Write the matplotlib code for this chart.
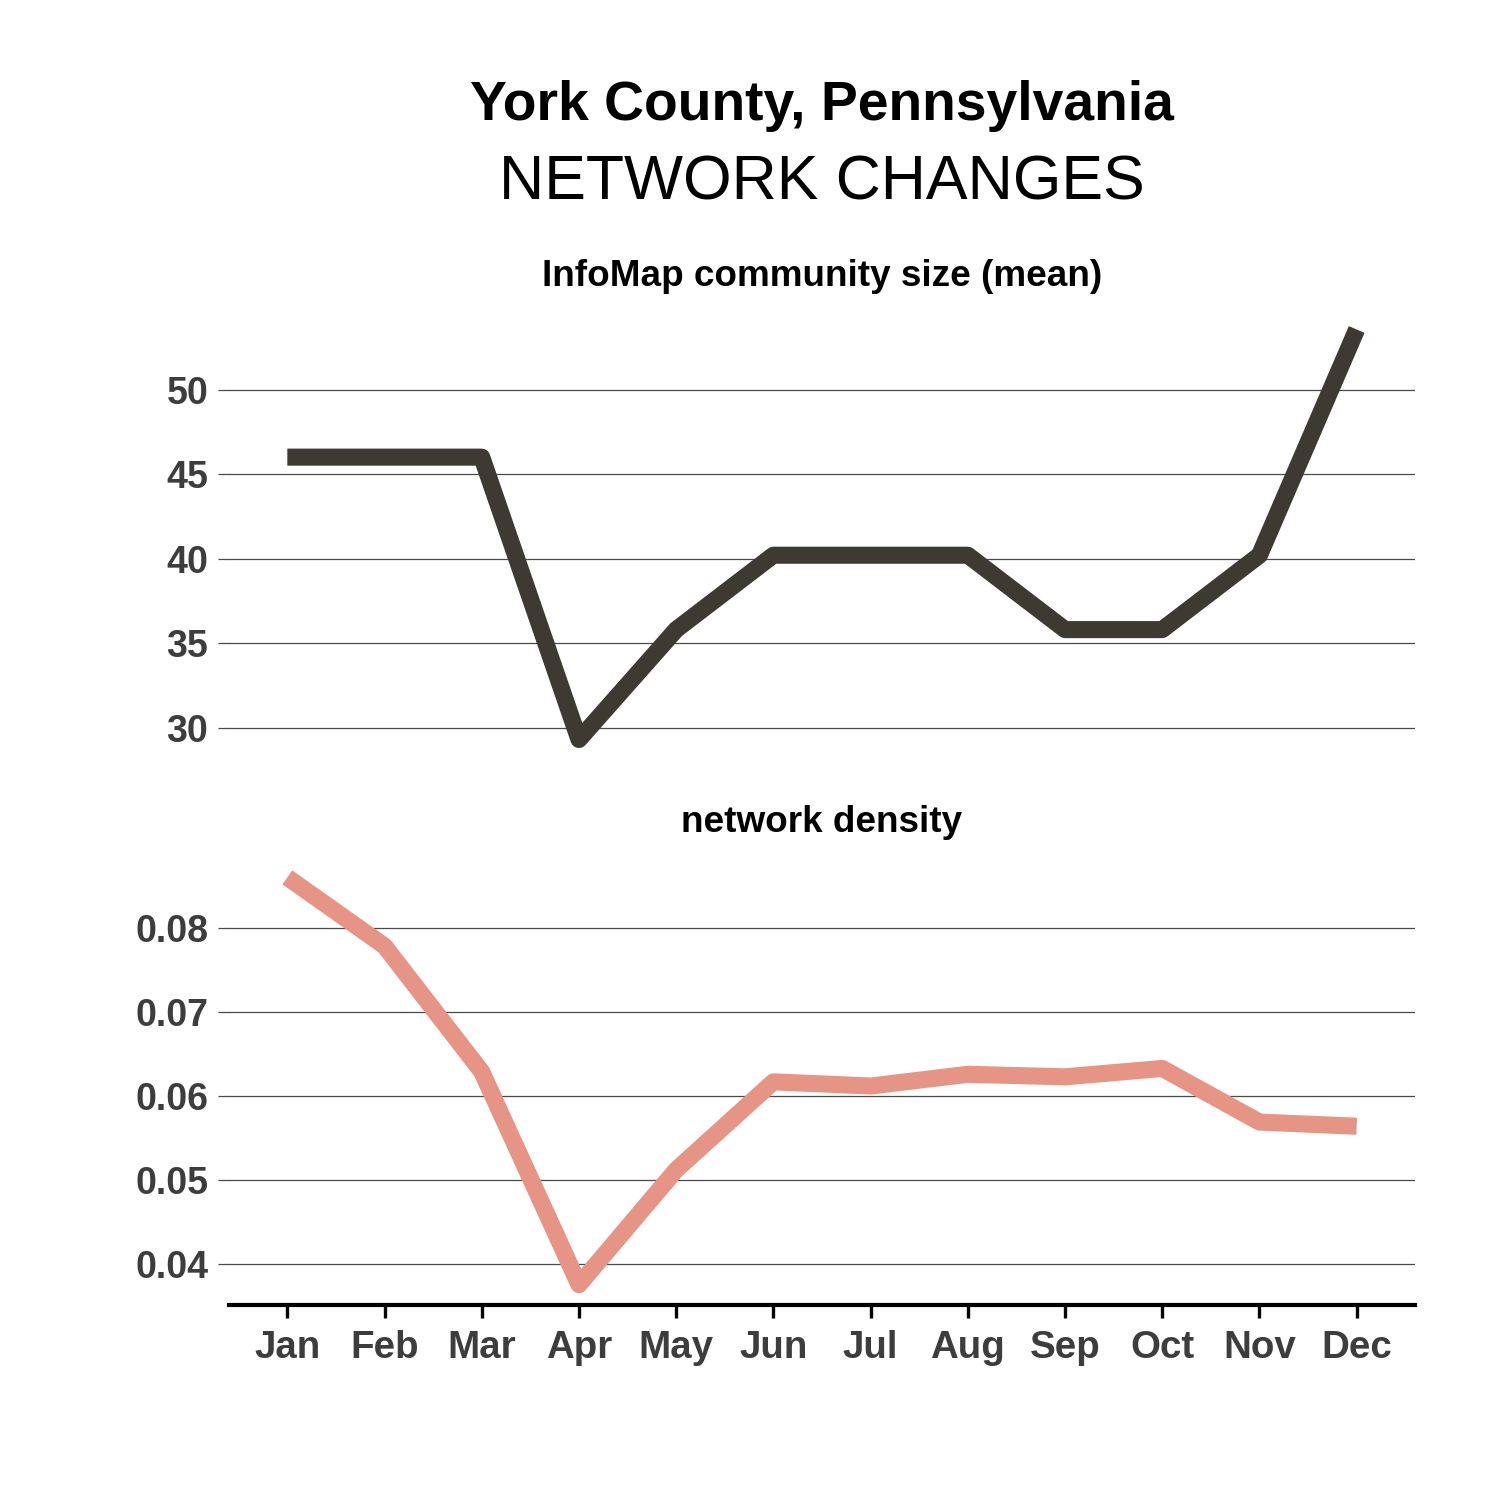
import matplotlib
matplotlib.use("Agg")
import matplotlib.pyplot as plt
import numpy as np

plt.rcParams["font.family"] = ["Liberation Sans", "DejaVu Sans"]

MONTHS = ["Jan", "Feb", "Mar", "Apr", "May", "Jun", "Jul", "Aug", "Sep", "Oct", "Nov", "Dec"]
COMMUNITY_SIZE = [46.0, 46.0, 46.0, 29.3, 35.8, 40.2, 40.2, 40.2, 35.8, 35.8, 40.2, 53.55]
DENSITY = [0.0861, 0.0779, 0.0629, 0.0375, 0.0512, 0.0617, 0.0612, 0.0626, 0.0623, 0.0633, 0.0569, 0.0564]

SIZE_TICKS = [30, 35, 40, 45, 50]
DENSITY_TICKS = [0.04, 0.05, 0.06, 0.07, 0.08]

DARK = "#3d3a32"
PINK = "#e59485"
GRID = "#4a4a4a"
LABEL = "#3d3d3d"

W = 1500.0
fig = plt.figure(figsize=(10, 10), dpi=150)


def box(left, top, right, bottom):
    return [left / W, 1 - bottom / W, (right - left) / W, (bottom - top) / W]


def padded(vals, frac=0.05):
    lo, hi = min(vals), max(vals)
    d = (hi - lo) * frac
    return lo - d, hi + d


def style(ax, ticks, fmt):
    for s in ax.spines.values():
        s.set_visible(False)
    ax.set_xlim(-0.6, len(MONTHS) - 1 + 0.6)
    ax.set_yticks(ticks)
    ax.set_yticklabels([fmt.format(t) for t in ticks], fontsize=18, fontweight="bold", color=LABEL)
    ax.tick_params(axis="y", length=5.5, width=0.6, color=GRID, pad=4.5)
    ax.yaxis.grid(True, color=GRID, linewidth=0.6)
    ax.set_axisbelow(True)


x = np.arange(len(MONTHS))

ax1 = fig.add_axes(box(229, 309, 1415, 760))
ax1.plot(x, COMMUNITY_SIZE, color=DARK, linewidth=8.2, solid_capstyle="butt", solid_joinstyle="round")
ax1.set_ylim(*padded(COMMUNITY_SIZE))
style(ax1, SIZE_TICKS, "{:g}")
ax1.set_xticks([])

ax2 = fig.add_axes(box(229, 857, 1415, 1305))
ax2.plot(x, DENSITY, color=PINK, linewidth=8.2, solid_capstyle="butt", solid_joinstyle="round")
ax2.set_ylim(*padded(DENSITY))
style(ax2, DENSITY_TICKS, "{:.2f}")
ax2.spines["bottom"].set_visible(True)
ax2.spines["bottom"].set_linewidth(2)
ax2.spines["bottom"].set_color("black")
ax2.set_xticks(x)
ax2.set_xticklabels(MONTHS, fontsize=18.5, fontweight="bold", color=LABEL)
ax2.tick_params(axis="x", length=6, width=1.6, color="black", pad=6)

cx = 822 / W
fig.text(cx, 1 - 106 / W, "York County, Pennsylvania", ha="center", va="center",
         fontsize=26.5, fontweight="bold")
fig.text(cx, 1 - 183 / W, "NETWORK CHANGES", ha="center", va="center", fontsize=30)
fig.text(cx, 1 - 276 / W, "InfoMap community size (mean)", ha="center", va="center",
         fontsize=17.7, fontweight="bold")
fig.text(cx, 1 - 823 / W, "network density", ha="center", va="center",
         fontsize=17.7, fontweight="bold")

fig.savefig("out.png", dpi=150, facecolor="white")
